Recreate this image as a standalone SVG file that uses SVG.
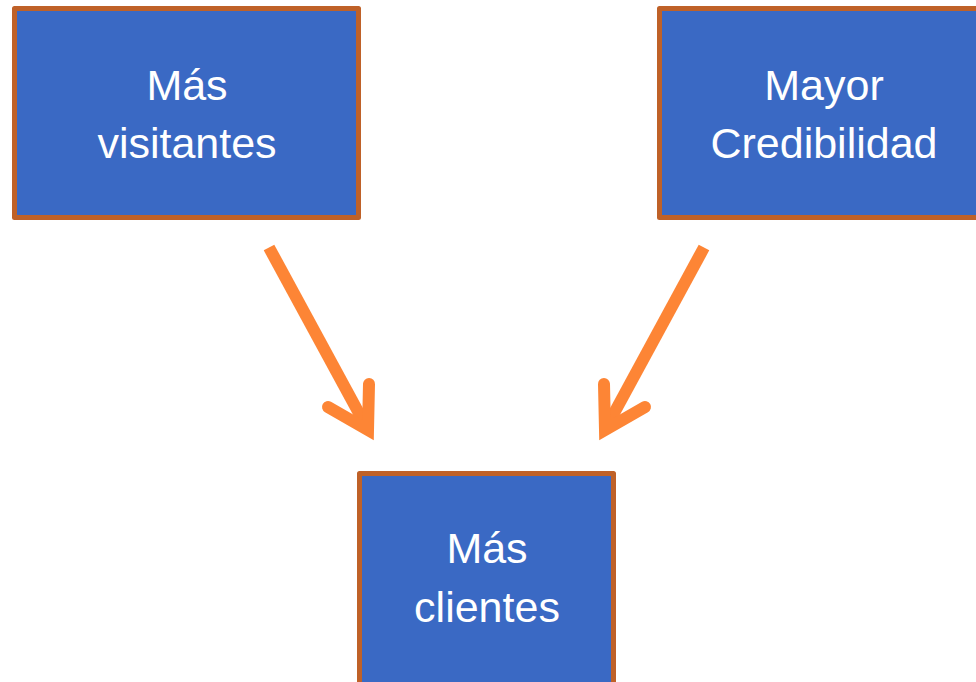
<svg xmlns="http://www.w3.org/2000/svg" width="976" height="682" viewBox="0 0 976 682">
<defs>
<style>
.box{fill:#3A69C4;stroke:#BF6128;stroke-width:5;stroke-linejoin:round}
.lbl{fill:#FFFFFF;font-family:"Liberation Sans",Arial,sans-serif;font-size:43px;text-anchor:middle}
.shaft{fill:none;stroke:#FD8535;stroke-width:12;stroke-linecap:butt}
.head{fill:none;stroke:#FD8535;stroke-width:12;stroke-linecap:round;stroke-linejoin:miter;stroke-miterlimit:10}
</style>
</defs>
<rect width="976" height="682" fill="#FFFFFF"/>
<g id="node-visitantes">
<rect class="box" x="14.5" y="8.5" width="344" height="209"/>
<text class="lbl" x="187" y="100">Más</text>
<text class="lbl" x="187" y="158">visitantes</text>
</g>
<g id="node-credibilidad">
<rect class="box" x="659.5" y="8.5" width="330" height="209"/>
<text class="lbl" x="824" y="100">Mayor</text>
<text class="lbl" x="824" y="158">Credibilidad</text>
</g>
<g id="node-clientes">
<rect class="box" x="359.5" y="473.5" width="254" height="212"/>
<text class="lbl" x="487" y="563">Más</text>
<text class="lbl" x="487" y="622">clientes</text>
</g>
<g id="connectors">
<path class="shaft" d="M269,247.5 L367,428"/>
<path class="head" d="M328,407 L368,430 L369,384"/>
<path class="shaft" d="M704,247.5 L606,428"/>
<path class="head" d="M645,407 L605,430 L604,384"/>
</g>
</svg>
